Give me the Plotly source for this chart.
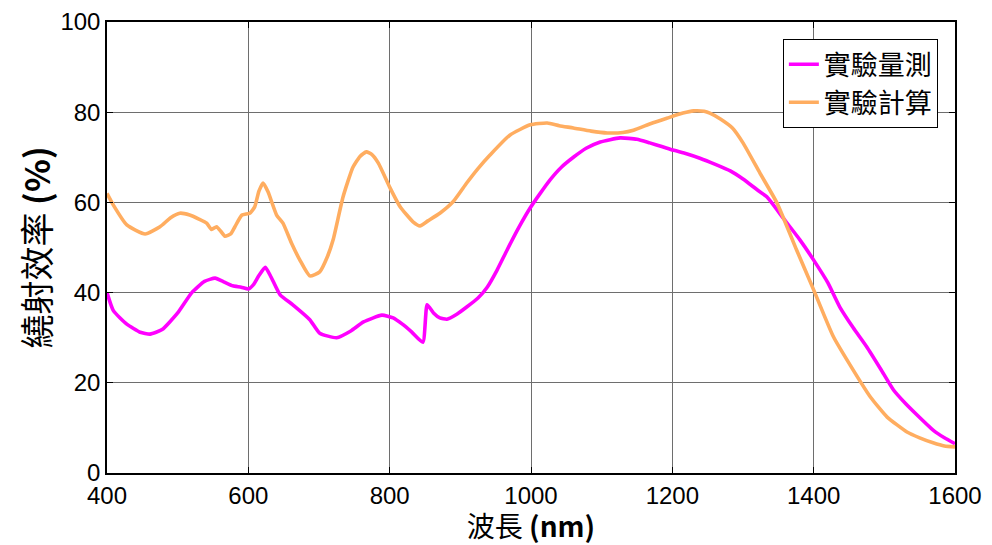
import plotly.graph_objects as go

# Wavelength (nm) and diffraction efficiency (%) for the measured curve
wl_meas = [400, 409, 428, 447, 461, 478, 500, 520, 538, 553, 565, 578, 590, 600, 607,
           615, 624, 632, 645, 663, 687, 701, 725, 745, 763, 789, 805, 818, 831, 847,
           853, 862, 871, 881, 895, 909, 925, 938, 952, 966, 983, 999, 1013, 1027,
           1043, 1060, 1078, 1098, 1126, 1150, 1168, 1185, 1201, 1220, 1239, 1260,
           1282, 1300, 1320, 1334, 1357, 1380, 1400, 1420, 1437, 1456, 1475, 1495,
           1513, 1530, 1546, 1569, 1585, 1600]
eff_meas = [40.0, 36.0, 33.0, 31.2, 30.8, 31.8, 35.5, 40.0, 42.5, 43.2, 42.4, 41.5, 41.2,
            40.8, 41.7, 43.8, 45.6, 43.5, 39.5, 37.3, 34.0, 31.0, 30.0, 31.5, 33.5, 35.0,
            34.4, 33.0, 31.3, 29.0, 37.3, 35.5, 34.4, 34.1, 35.2, 36.8, 38.8, 41.2, 45.0,
            49.4, 54.5, 58.8, 62.0, 65.0, 67.8, 70.0, 72.0, 73.4, 74.3, 74.0, 73.2, 72.4,
            71.6, 70.8, 69.8, 68.5, 67.0, 65.2, 62.8, 61.2, 56.5, 51.8, 47.2, 42.2, 36.8,
            32.2, 28.0, 23.0, 18.4, 15.4, 12.9, 9.5, 7.8, 6.5]

# Wavelength (nm) and diffraction efficiency (%) for the calculated curve
wl_calc = [400, 409, 428, 454, 475, 490, 503, 517, 530, 541, 548, 555, 561, 567, 575,
           581, 591, 602, 609, 615, 621, 628, 640, 649, 661, 673, 687, 701, 712, 720,
           734, 748, 758, 767, 775, 784, 800, 815, 833, 843, 854, 871, 890, 909, 925,
           942, 970, 999, 1023, 1040, 1060, 1085, 1108, 1130, 1145, 1170, 1193, 1215,
           1230, 1245, 1253, 1268, 1285, 1300, 1324, 1348, 1376, 1400, 1428, 1456,
           1480, 1504, 1532, 1550, 1569, 1585, 1600]
eff_calc = [62.0, 59.4, 55.0, 53.0, 54.6, 56.6, 57.6, 57.2, 56.3, 55.4, 54.0, 54.6, 53.6,
            52.5, 53.0, 54.6, 57.2, 57.6, 59.0, 62.5, 64.3, 62.3, 57.2, 55.4, 51.0, 47.2,
            43.7, 44.6, 48.0, 51.7, 61.2, 67.8, 70.2, 71.2, 70.6, 68.7, 63.4, 59.0, 55.7,
            54.8, 55.9, 57.6, 60.2, 64.3, 67.5, 70.5, 74.9, 77.2, 77.6, 77.0, 76.5, 75.8,
            75.4, 75.5, 76.0, 77.5, 78.7, 79.8, 80.3, 80.2, 79.8, 78.5, 76.5, 73.2, 66.5,
            59.9, 49.4, 40.6, 30.2, 22.8, 16.9, 12.4, 9.1, 7.8, 6.7, 6.0, 5.8]

series_names = ["實驗量測", "實驗計算"]
series_colors = ["#FF00FF", "#FFAD60"]

x_ticks = [400, 600, 800, 1000, 1200, 1400, 1600]
y_ticks = [0, 20, 40, 60, 80, 100]

fig = go.Figure()
for wl, eff, name, color in zip([wl_meas, wl_calc], [eff_meas, eff_calc],
                                series_names, series_colors):
    fig.add_trace(go.Scatter(
        x=wl, y=eff, mode="lines", name=name,
        line=dict(color=color, width=3.6, shape="spline", smoothing=0.5),
    ))

axis_common = dict(
    showgrid=True, gridcolor="#6e6e6e", gridwidth=1,
    showline=True, linecolor="black", linewidth=1.5, mirror="ticks",
    ticks="inside", ticklen=6, tickcolor="black",
    tickfont=dict(family="Liberation Sans, Arial", size=24, color="black"),
    zeroline=False, automargin=False,
)

fig.update_layout(
    width=992, height=545,
    margin=dict(l=107, r=37, t=22, b=72),
    paper_bgcolor="white", plot_bgcolor="white",
    xaxis=dict(range=[400, 1600], tickvals=x_ticks, **axis_common,
               title=dict(text="波長 <b>(nm)</b>", standoff=6,
                          font=dict(family="Noto Sans CJK TC", size=28, color="black"))),
    yaxis=dict(range=[0, 100], tickvals=y_ticks, **axis_common,
               title=dict(text="繞射效率 <b>(%)</b>", standoff=0,
                          font=dict(family="Noto Sans CJK TC", size=34, color="black"))),
    legend=dict(
        x=0.797, y=0.962, xanchor="left", yanchor="top",
        bgcolor="white", bordercolor="black", borderwidth=1,
        font=dict(family="Noto Sans CJK TC", size=27, color="black"),
        itemwidth=30, tracegroupgap=0,
    ),
    showlegend=True,
)

fig.write_html("out.html")
